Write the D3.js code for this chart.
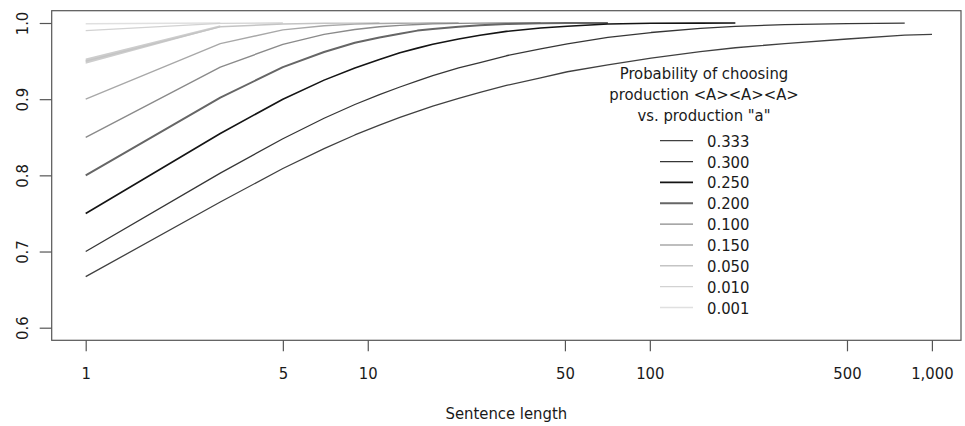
<!DOCTYPE html>
<html>
<head>
<meta charset="utf-8">
<script src="https://cdn.jsdelivr.net/npm/d3@7"></script>
<style>
  body { margin: 0; background: #fff; }
  svg { display: block; }
  text { font-family: "DejaVu Sans Condensed", "DejaVu Sans", sans-serif; font-stretch: condensed; fill: #1a1a1a; }
</style>
</head>
<body>
<svg id="chart" width="965" height="426"></svg>
<script>
// sentence lengths (odd) where each curve was read
var lengths = [1, 3, 5, 7, 9, 11, 13, 15, 17, 21, 25, 31, 41, 51, 71, 101, 151, 201, 301, 501, 801, 1001];

// legend labels, in the order they are listed
var legendLabels = ["0.333", "0.300", "0.250", "0.200", "0.100", "0.150", "0.050", "0.010", "0.001"];

// y values per curve (same order as the legend)
var v333 = [0.667, 0.765, 0.809, 0.835, 0.853, 0.866, 0.876, 0.884, 0.891, 0.901, 0.909, 0.918, 0.928, 0.936, 0.945, 0.954, 0.9625, 0.9675, 0.973, 0.979, 0.984, 0.985];
var v300 = [0.700, 0.803, 0.848, 0.875, 0.893, 0.906, 0.916, 0.924, 0.931, 0.941, 0.948, 0.957, 0.966, 0.9725, 0.981, 0.9875, 0.993, 0.9957, 0.9979, 0.9993, 0.9999];
var v250 = [0.750, 0.855, 0.900, 0.925, 0.941, 0.952, 0.961, 0.967, 0.972, 0.979, 0.984, 0.989, 0.9934, 0.9958, 0.9986, 0.9996, 0.9999, 1.0];
var v200 = [0.800, 0.902, 0.942, 0.962, 0.974, 0.981, 0.986, 0.990, 0.992, 0.995, 0.997, 0.9986, 0.9996, 0.9999, 1.0];
var v100 = [0.850, 0.942, 0.972, 0.985, 0.9915, 0.995, 0.9969, 0.9981, 0.9988, 0.9995, 0.9998, 0.99995, 1.0];
var v150 = [0.900, 0.973, 0.991, 0.9964, 0.9985, 0.9994, 0.9997, 0.9999, 0.99995, 1.0];
var v050 = [0.950, 0.995, 0.9987, 0.9997, 0.9999, 1.0];
var v010 = [0.990, 0.9996, 1.0];
var v001 = [0.999, 1.0];

// the thick light wedge at the start of the 0.050 curve
var bandLengths = [1, 3];
var bandUpper = [0.9535, 0.997];
var bandLower = [0.9465, 0.9945];

var xTicks = [1, 5, 10, 50, 100, 500, 1000];
var yTicks = [0.6, 0.7, 0.8, 0.9, 1.0];

var series = [v333, v300, v250, v200, v100, v150, v050, v010, v001];
var colors = ["#404040", "#363636", "#141414", "#666666", "#8a8a8a", "#a8a8a8", "#c4c4c4", "#d2d2d2", "#e0e0e0"];
var widths = [1.3, 1.3, 1.6, 2.0, 1.4, 1.4, 1.4, 1.3, 1.3];

var svg = d3.select("#chart");
var plotLeft = 51.7, plotRight = 961, plotTop = 10.7, plotBottom = 340.3;

var x = d3.scaleLog().domain([1, 1000]).range([85.7, 931.9]);
var y = d3.scaleLinear().domain([0.6, 1.0]).range([327.7, 23]);

var line = d3.line()
	.x(function(d) { return x(d[0]); })
	.y(function(d) { return y(d[1]); });

// band
var band = d3.area()
	.x(function(d) { return x(d[0]); })
	.y0(function(d) { return y(d[1]); })
	.y1(function(d) { return y(d[2]); });
svg.append("path")
	.datum(bandLengths.map(function(n, i) { return [n, bandLower[i], bandUpper[i]]; }))
	.attr("d", band)
	.attr("fill", "#cdcdcd");

// curves, lightest first so the dark ones sit on top
for (var s = series.length - 1; s >= 0; s--) {
	var pts = series[s].map(function(v, i) { return [lengths[i], v]; });
	svg.append("path")
		.datum(pts)
		.attr("d", line)
		.attr("fill", "none")
		.attr("stroke", colors[s])
		.attr("stroke-width", widths[s])
		.attr("stroke-linejoin", "round");
}

// box
svg.append("rect")
	.attr("x", plotLeft).attr("y", plotTop)
	.attr("width", plotRight - plotLeft).attr("height", plotBottom - plotTop)
	.attr("fill", "none").attr("stroke", "#555").attr("stroke-width", 1.2);

// x axis
var gx = svg.append("g")
	.attr("transform", "translate(0," + plotBottom + ")")
	.call(d3.axisBottom(x).tickValues(xTicks).tickFormat(d3.format(",")).tickSize(11).tickSizeOuter(0));
gx.select(".domain").remove();
gx.selectAll("line").attr("stroke", "#555").attr("stroke-width", 1.2);
gx.selectAll("text")
	.attr("y", 39).attr("dy", null)
	.attr("fill", "#1a1a1a")
	.style("font-size", "16.5px");
gx.attr("font-family", null).attr("font-size", null);

// y axis
var gy = svg.append("g")
	.attr("transform", "translate(" + plotLeft + ",0)")
	.call(d3.axisLeft(y).tickValues(yTicks).tickFormat(d3.format(".1f")).tickSize(12).tickSizeOuter(0));
gy.select(".domain").remove();
gy.selectAll("line").attr("stroke", "#555").attr("stroke-width", 1.2);
gy.selectAll("text")
	.attr("x", null).attr("dy", null)
	.attr("text-anchor", "middle")
	.attr("transform", "translate(-23.5,0) rotate(-90)")
	.attr("fill", "#1a1a1a")
	.style("font-size", "16.5px");
gy.attr("font-family", null).attr("font-size", null);

// axis title
svg.append("text")
	.attr("x", (plotLeft + plotRight) / 2).attr("y", 419)
	.attr("text-anchor", "middle")
	.style("font-size", "16.5px")
	.text("Sentence length");

// legend
var legendTitle = ["Probability of choosing", "production <A><A><A>", "vs. production \"a\""];
var lg = svg.append("g");
lg.selectAll("text.title")
	.data(legendTitle)
	.enter().append("text")
		.attr("class", "title")
		.attr("x", 704)
		.attr("y", function(d, i) { return 79 + i * 21; })
		.attr("text-anchor", "middle")
		.style("font-size", "16.5px")
		.text(function(d) { return d; });

var rows = lg.selectAll("g.row")
	.data(legendLabels)
	.enter().append("g")
		.attr("class", "row")
		.attr("transform", function(d, i) { return "translate(0," + (140.7 + i * 20.85) + ")"; });
rows.append("line")
	.attr("x1", 660).attr("x2", 693)
	.attr("stroke", function(d, i) { return colors[i]; })
	.attr("stroke-width", function(d, i) { return Math.min(widths[i], 1.8); });
rows.append("text")
	.attr("x", 707).attr("y", 6)
	.style("font-size", "16.5px")
	.text(function(d) { return d; });
</script>
</body>
</html>
